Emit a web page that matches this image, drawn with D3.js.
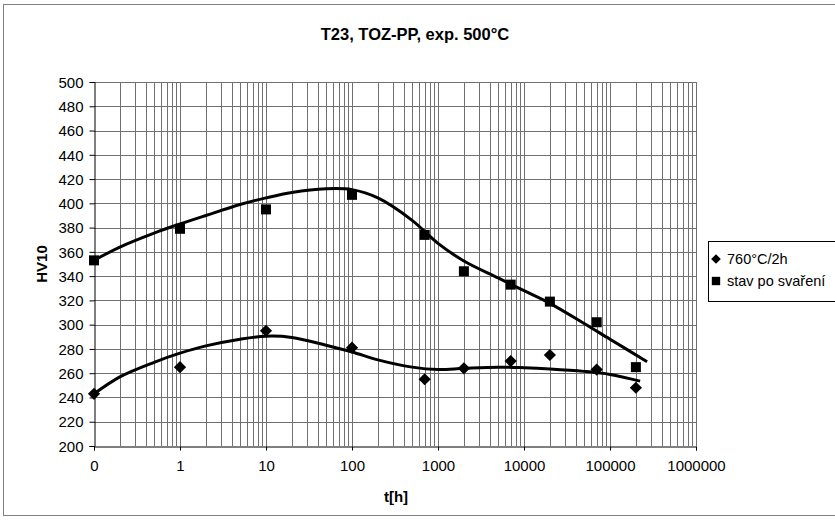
<!DOCTYPE html>
<html>
<head>
<meta charset="utf-8">
<script src="https://cdn.jsdelivr.net/npm/d3@7"></script>
<style>
  body { margin: 0; background: #fff; }
  text { font-family: "Liberation Sans", Arial, sans-serif; fill: #000; }
</style>
</head>
<body>
<script>
// chart data
var title = "T23, TOZ-PP, exp. 500°C";
var seriesNames = ["760°C/2h", "stav po svaření"];

// exposure time [h]; the first point (t = 0) sits on 0.1 of the log axis
var times = [0.1, 1, 10, 100, 700, 2000, 7000, 20000, 70000, 200000];
var hvAnnealed = [243, 265, 295, 281, 255, 264, 270, 275, 263, 248];
var hvWelded = [353, 379, 395, 407, 374, 344, 333, 319, 302, 265];

// smooth trend curves drawn in the chart
var trendTimes = [0.1, 0.2, 0.5, 1, 2, 5, 10, 20, 50, 100, 200, 500, 1000, 2000, 5000, 10000, 20000, 50000, 100000];
var trendAnnealed = [243, 257, 269, 276.5, 282.5, 288, 290.5, 289.5, 283, 277.5, 271, 265, 263, 264, 265, 264.5, 263.5, 261.5, 259];
var trendWelded = [353, 364, 375.5, 383, 390, 399, 404.5, 409, 412, 411.3, 404.5, 386, 367, 352.5, 338.5, 328, 317.6, 301, 288];
var endAnnealed = [224000, 253.5];
var endWelded = [270000, 269.5];

var xTickValues = [0.1, 1, 10, 100, 1000, 10000, 100000, 1000000];
var xTickLabels = ["0", "1", "10", "100", "1000", "10000", "100000", "1000000"];
var yTicks = d3.range(200, 501, 20);

var w = 835, h = 520;

var svg = d3.select("body")
  .append("svg")
  .attr("width", w)
  .attr("height", h);

// chart frame
svg.append("rect")
  .attr("x", 3.5).attr("y", 4.5)
  .attr("width", w).attr("height", 511)
  .attr("fill", "#fff")
  .attr("stroke", "#808080");

var x = d3.scaleLog().domain([0.1, 1000000]).range([94, 696]);
var y = d3.scaleLinear().domain([200, 500]).range([446, 82]);

// grid - horizontal
svg.append("g")
  .selectAll("line")
  .data(yTicks.slice(1))
  .enter()
  .append("line")
  .attr("x1", x(0.1)).attr("x2", x(1000000))
  .attr("y1", function(d){ return Math.round(y(d)) + 0.5; })
  .attr("y2", function(d){ return Math.round(y(d)) + 0.5; })
  .attr("stroke", "#707070");

// grid - vertical, every 1..9 of each decade
var vlines = [];
for (var e = -1; e < 6; e++) {
  for (var k = 1; k < 10; k++) {
    vlines.push(k * Math.pow(10, e));
  }
}
vlines.push(1000000);
svg.append("g")
  .selectAll("line")
  .data(vlines.slice(1))
  .enter()
  .append("line")
  .attr("x1", function(d){ return Math.round(x(d)) + 0.5; })
  .attr("x2", function(d){ return Math.round(x(d)) + 0.5; })
  .attr("y1", y(500)).attr("y2", y(200))
  .attr("stroke", "#707070");

// axes
var xAxis = d3.axisBottom(x)
  .tickValues(xTickValues)
  .tickFormat(function(d, i){ return xTickLabels[i]; })
  .tickSize(4)
  .tickPadding(10);
var gx = svg.append("g")
  .attr("transform", "translate(0," + (Math.round(y(200)) + 0.5) + ")")
  .call(xAxis);

var yAxis = d3.axisLeft(y)
  .tickValues(yTicks)
  .tickSize(5)
  .tickPadding(6);
var gy = svg.append("g")
  .attr("transform", "translate(" + (Math.round(x(0.1)) + 0.5) + ",0)")
  .call(yAxis);

[gx, gy].forEach(function(g){
  g.select(".domain").attr("stroke", "#000");
  g.selectAll(".tick line").attr("stroke", "#000");
  g.selectAll(".tick text")
    .attr("font-family", "Liberation Sans, Arial, sans-serif")
    .attr("font-size", 15)
    .attr("fill", "#000");
});
gy.selectAll(".tick text").attr("dy", "0.35em");

// trend curves
var line = d3.line()
  .x(function(d){ return x(d[0]); })
  .y(function(d){ return y(d[1]); })
  .curve(d3.curveCatmullRom.alpha(0.5));

var annealedCurve = trendTimes.map(function(t, i){ return [t, trendAnnealed[i]]; });
annealedCurve.push(endAnnealed);
var weldedCurve = trendTimes.map(function(t, i){ return [t, trendWelded[i]]; });
weldedCurve.push(endWelded);

svg.selectAll("path.trend")
  .data([annealedCurve, weldedCurve])
  .enter()
  .append("path")
  .attr("class", "trend")
  .attr("d", line)
  .attr("fill", "none")
  .attr("stroke", "#000")
  .attr("stroke-width", 3);

// markers
var diamond = d3.symbol().type(d3.symbolDiamond2).size(95);

svg.append("g")
  .selectAll("path")
  .data(times)
  .enter()
  .append("path")
  .attr("d", diamond)
  .attr("transform", function(d, i){
    return "translate(" + x(d) + "," + y(hvAnnealed[i]) + ")";
  })
  .attr("fill", "#000");

svg.append("g")
  .selectAll("rect")
  .data(times)
  .enter()
  .append("rect")
  .attr("x", function(d){ return x(d) - 5; })
  .attr("y", function(d, i){ return y(hvWelded[i]) - 5; })
  .attr("width", 10)
  .attr("height", 10)
  .attr("fill", "#000");

// titles
svg.append("text")
  .attr("x", 415).attr("y", 40)
  .attr("text-anchor", "middle")
  .attr("font-size", 16.5)
  .attr("font-weight", "bold")
  .text(title);

svg.append("text")
  .attr("x", 396).attr("y", 502)
  .attr("text-anchor", "middle")
  .attr("font-size", 15)
  .attr("font-weight", "bold")
  .text("t[h]");

svg.append("text")
  .attr("transform", "translate(47,264) rotate(-90)")
  .attr("text-anchor", "middle")
  .attr("font-size", 15)
  .attr("font-weight", "bold")
  .text("HV10");

// legend
var legend = svg.append("g");
legend.append("rect")
  .attr("x", 708.5).attr("y", 241.5)
  .attr("width", 160).attr("height", 60)
  .attr("fill", "#fff")
  .attr("stroke", "#000");

var items = legend.selectAll("g.item")
  .data(seriesNames)
  .enter()
  .append("g")
  .attr("class", "item")
  .attr("transform", function(d, i){ return "translate(716," + (259 + i * 22) + ")"; });

items.append("path")
  .attr("d", function(d, i){
    return i === 0
      ? d3.symbol().type(d3.symbolDiamond2).size(60)()
      : d3.symbol().type(d3.symbolSquare).size(70)();
  })
  .attr("fill", "#000");

items.append("text")
  .attr("x", 11)
  .attr("dy", "0.35em")
  .attr("font-size", 14.5)
  .text(function(d){ return d; });
</script>
</body>
</html>
